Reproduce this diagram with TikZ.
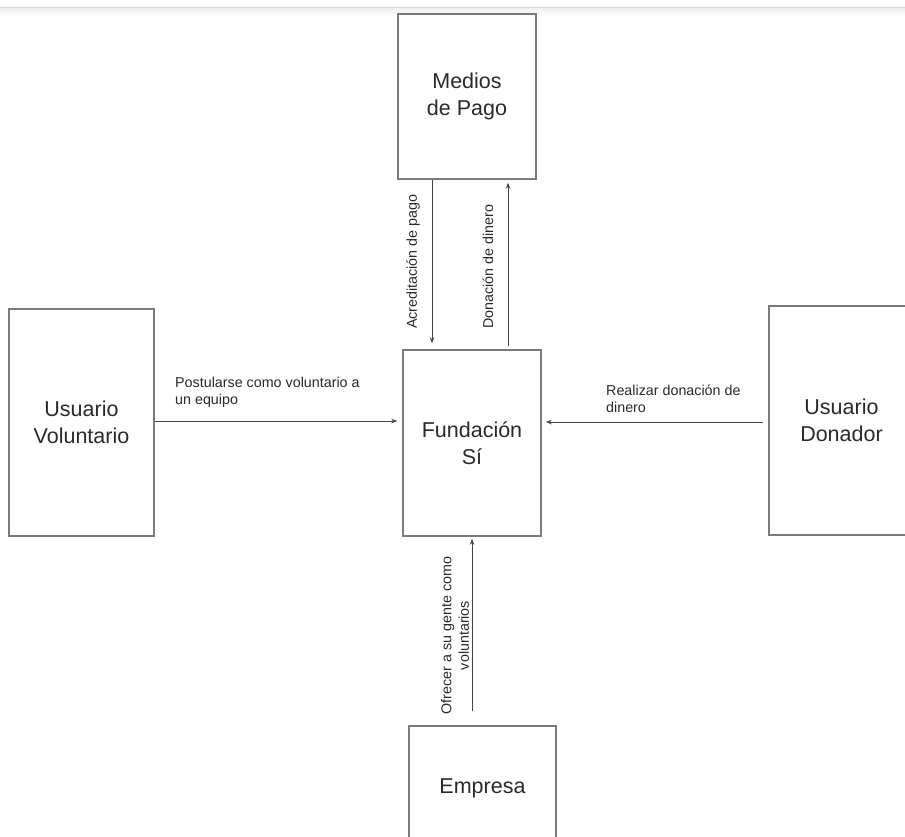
\documentclass[tikz,border=0pt]{standalone}
\usepackage{fontspec}
\setmainfont{Liberation Sans}
\usetikzlibrary{arrows.meta,calc}
\definecolor{boxgray}{HTML}{7A7A7A}
\definecolor{linegray}{HTML}{444444}
\definecolor{txt}{HTML}{2A2A2A}
\tikzset{
  entity/.style={draw=boxgray, line width=1.6pt, fill=white, inner sep=0pt,
    align=center, text=txt, font=\fontsize{21.5}{26.5}\selectfont},
  flow/.style={draw=linegray, line width=1pt, -{Stealth[length=6pt,width=4.5pt]}},
  lbl/.style={inner sep=0pt, text=txt, font=\fontsize{14.3}{17.5}\selectfont},
}
\begin{document}
\begin{tikzpicture}[x=1pt,y=-1pt]
\useasboundingbox (0,0) rectangle (905,836);
\clip (0,0) rectangle (905,836);
\fill[white] (0,0) rectangle (905,836);
% top rule of the page
\shade[top color=black!6, bottom color=white] (0,8) rectangle (905,16);
\draw[black!16, line width=1.4pt] (0,7.5) -- (905,7.5);

% entities
\node[entity, minimum width=138pt, minimum height=165pt] (medios) at (467,96.5) {Medios\\de Pago};
\node[entity, minimum width=138pt, minimum height=186pt] (fund) at (472,443) {Fundación\\Sí};
\node[entity, minimum width=145pt, minimum height=227pt] (vol) at (81.5,422.5) {Usuario\\Voluntario};
\node[entity, minimum width=145pt, minimum height=229pt] (don) at (841.5,420.5) {Usuario\\Donador};
\node[entity, minimum width=147pt, minimum height=124pt] (emp) at (482.5,788) {Empresa};

% x / y positions of the connectors
\coordinate (xa) at (432,0);
\coordinate (xd) at (508,0);
\coordinate (xe) at (472,0);
\coordinate (yv) at (0,421);
\coordinate (yr) at (0,422);

% connectors
\draw[flow, shorten >=6pt] (medios.south -| xa) -- (fund.north -| xa);
\draw[flow, shorten <=3pt, shorten >=3pt] (fund.north -| xd) -- (medios.south -| xd);
\draw[flow, shorten >=5pt] (vol.east |- yv) -- (fund.west |- yv);
\draw[flow, shorten <=5pt, shorten >=4pt] (don.west |- yr) -- (fund.east |- yr);
\draw[flow, shorten <=14pt, shorten >=2pt] (emp.north -| xe) -- (fund.south -| xe);

% labels
\node[lbl, rotate=90, anchor=west] (la) at (413,329) {Acreditación de pago};
\node[lbl, rotate=90, anchor=west] (ld) at (488,329) {Donación de dinero};
\node[lbl, rotate=90, align=center] (le) at (455,635.5) {Ofrecer a su gente como\\voluntarios};
\node[lbl, align=left, anchor=west] (lv) at (175,392.5) {Postularse como voluntario a\\un equipo};
\node[lbl, align=left, anchor=west] (lr) at (606,399) {Realizar donación de\\dinero};
\end{tikzpicture}
\end{document}
